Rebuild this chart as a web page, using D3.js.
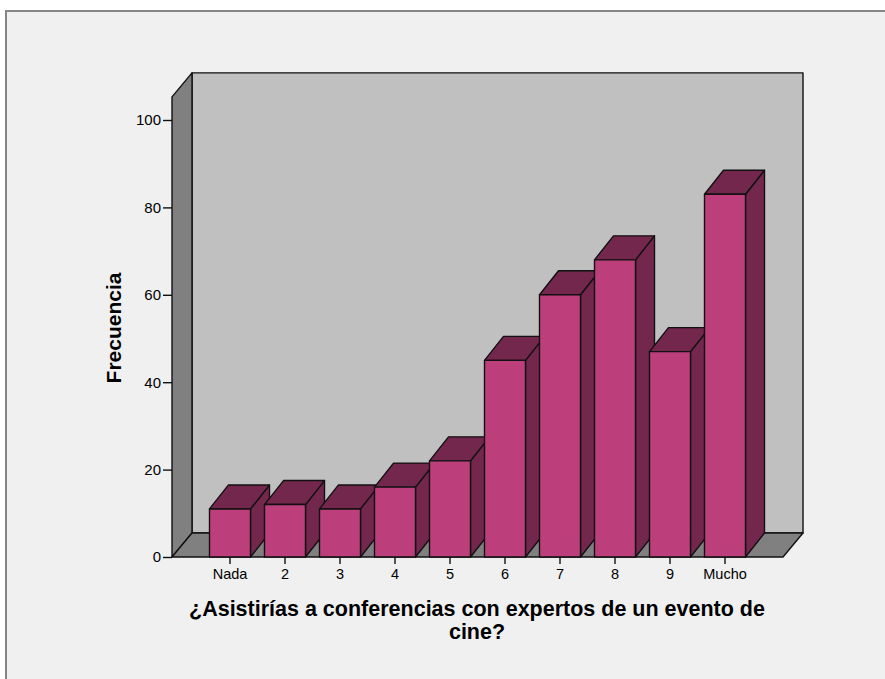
<!DOCTYPE html>
<html>
<head>
<meta charset="utf-8">
<script src="https://cdn.jsdelivr.net/npm/d3@7"></script>
<style>
  html, body { margin: 0; padding: 0; background: #ffffff; }
  svg { display: block; }
  text { font-family: "Liberation Sans", Arial, sans-serif; fill: #000; }
</style>
</head>
<body>
<svg id="chart" width="885" height="679"></svg>
<script>
// Frequency of answers, from "Nada" (not at all) to "Mucho" (a lot)
const categories = ["Nada", "2", "3", "4", "5", "6", "7", "8", "9", "Mucho"];
const frequencies = [11, 12, 11, 16, 22, 45, 60, 68, 47, 83];
const yTicks = [0, 20, 40, 60, 80, 100];
const yTitle = "Frecuencia";
const xTitleLines = ["¿Asistirías a conferencias con expertos de un evento de", "cine?"];

const svg = d3.select("#chart");

// panel frame
svg.append("rect")
  .attr("x", 6).attr("y", 11).attr("width", 920).attr("height", 720)
  .attr("fill", "#f0f0f0").attr("stroke", "#858585").attr("stroke-width", 2);

// plot geometry
const left = 172, right = 783, base = 557;
const depth = { dx: 20, dy: -24 };   // depth of the walls / floor
const barDepth = { dx: 19, dy: -24 }; // depth of each bar

const y = d3.scaleLinear().domain([0, 100]).range([base, 120]);
const yTop = y(105.3);

const x = d3.scaleBand()
  .domain(categories)
  .range([202.5, 752.5])
  .paddingInner(0.2545)
  .paddingOuter(0.12725);

const outline = { stroke: "#111", "stroke-width": 1.4, "stroke-linejoin": "round" };
function poly(pts, fill) {
  const p = svg.append("polygon")
    .attr("points", pts.map(d => d.join(",")).join(" "))
    .attr("fill", fill);
  Object.entries(outline).forEach(([k, v]) => p.attr(k, v));
  return p;
}

// back wall
poly([[left + depth.dx, yTop + depth.dy], [right + depth.dx, yTop + depth.dy],
      [right + depth.dx, base + depth.dy], [left + depth.dx, base + depth.dy]], "#c0c0c0");
// left wall
poly([[left, yTop], [left + depth.dx, yTop + depth.dy],
      [left + depth.dx, base + depth.dy], [left, base]], "#808080");
// floor
poly([[left, base], [left + depth.dx, base + depth.dy],
      [right + depth.dx, base + depth.dy], [right, base]], "#808080");

// bars, drawn left to right so each front face covers the previous side face
const front = "#bc3f7c", shade = "#73274d";
categories.forEach((c, i) => {
  const x0 = x(c), x1 = x0 + x.bandwidth();
  const yv = y(frequencies[i]);
  const g = barDepth;
  // right side
  poly([[x1, yv], [x1 + g.dx, yv + g.dy], [x1 + g.dx, base + g.dy], [x1, base]], shade);
  // top
  poly([[x0, yv], [x0 + g.dx, yv + g.dy], [x1 + g.dx, yv + g.dy], [x1, yv]], shade);
  // front
  poly([[x0, yv], [x1, yv], [x1, base], [x0, base]], front);
});

// y axis
const yAxis = svg.append("g").attr("transform", `translate(${left},0)`)
  .call(d3.axisLeft(y).tickValues(yTicks).tickSize(9).tickPadding(2).tickFormat(d3.format("d")));
yAxis.select(".domain").remove();
yAxis.selectAll(".tick line").attr("stroke", "#111").attr("stroke-width", 1.4);
yAxis.selectAll(".tick text").attr("font-size", 15)
  .attr("font-family", "'Liberation Sans', Arial, sans-serif").attr("fill", "#111");

// x axis
const xAxis = svg.append("g").attr("transform", `translate(0,${base})`)
  .call(d3.axisBottom(x).tickSize(7).tickPadding(5));
xAxis.select(".domain").remove();
xAxis.selectAll(".tick line").attr("stroke", "#111").attr("stroke-width", 1.4);
xAxis.selectAll(".tick text").attr("font-size", 14.5)
  .attr("font-family", "'Liberation Sans', Arial, sans-serif").attr("fill", "#111");

// axis titles
svg.append("text")
  .attr("transform", "translate(121,328) rotate(-90)")
  .attr("text-anchor", "middle")
  .attr("font-size", 21).attr("font-weight", "bold")
  .text(yTitle);

svg.append("text")
  .attr("x", 477).attr("y", 616)
  .attr("text-anchor", "middle")
  .attr("font-size", 21.5).attr("font-weight", "bold")
  .selectAll("tspan").data(xTitleLines).join("tspan")
  .attr("x", 477).attr("dy", (d, i) => i === 0 ? 0 : 23)
  .text(d => d);
</script>
</body>
</html>
